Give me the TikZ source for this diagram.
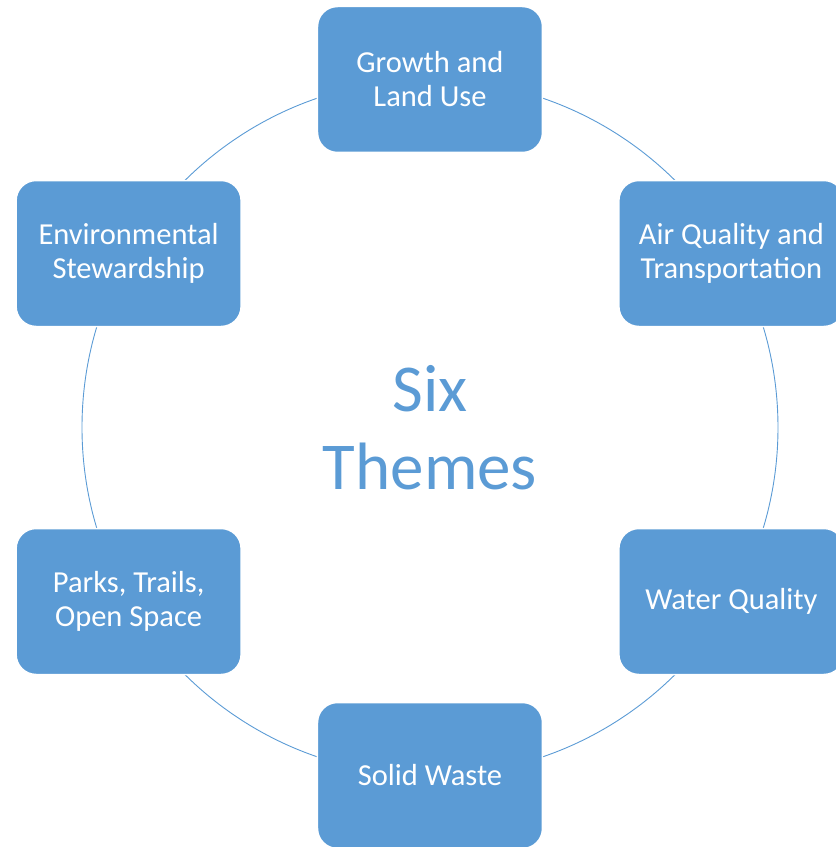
\documentclass[tikz,border=0pt]{standalone}
\usepackage{fontspec}
\setmainfont{Carlito}
\usepackage{xcolor}
\definecolor{themeblue}{HTML}{5B9BD5}

\begin{document}
\begin{tikzpicture}[x=1pt, y=1pt]
    \tikzstyle{theme} = [rectangle, rounded corners=20pt, fill=themeblue, draw=white, line width=1.5pt,
        minimum width=225pt, minimum height=146pt, inner sep=0pt, align=center, text=white,
        font=\fontsize{30.5}{34}\selectfont]
    \tikzstyle{title} = [align=center, text=themeblue, font=\fontsize{67}{78}\selectfont]

    \useasboundingbox (-430,-419.5) rectangle (406,427.5);

    % Ring
    \node[circle, draw=themeblue, line width=0.9pt, minimum size=696pt, inner sep=0pt] (ring) at (0,0) {};

    % Themes
    \node[theme] (growth) at (90:348) {Growth and\\Land Use};
    \node[theme] (air) at (30:348) {Air Quality and\\Transportation};
    \node[theme] (water) at (-30:348) {Water Quality};
    \node[theme] (waste) at (-90:348) {Solid Waste};
    \node[theme] (parks) at (-150:348) {Parks, Trails,\\Open Space};
    \node[theme] (env) at (150:348) {Environmental\\Stewardship};

    % Centre
    \node[title] (six) at (0,0) {Six\\Themes};

\end{tikzpicture}
\end{document}
